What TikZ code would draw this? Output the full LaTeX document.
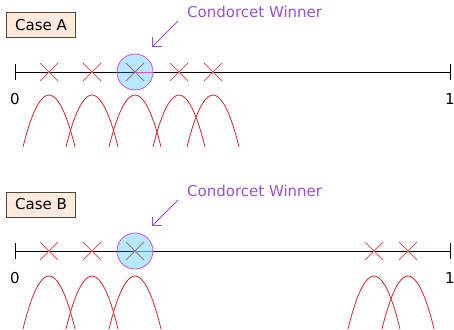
\documentclass[tikz,border=0pt]{standalone}
\usepackage{fontspec}
\setmainfont{DejaVu Sans}
\usetikzlibrary{arrows.meta}
\definecolor{cwviolet}{HTML}{9B4FD0}
\definecolor{cwmag}{HTML}{D050E0}
\definecolor{crossred}{HTML}{E05A5A}
\definecolor{arcred}{HTML}{D02828}
\definecolor{boxfill}{HTML}{FFEBDD}
\definecolor{boxdraw}{HTML}{4A4A30}
\tikzset{
  casebox/.style={draw=boxdraw, fill=boxfill, line width=0.8pt, minimum width=69pt, minimum height=25pt, inner sep=0pt, font=\fontsize{15}{18}\selectfont},
  axis/.style={draw=black, line width=0.9pt},
  xmark/.style={draw=crossred, line width=0.8pt},
  arc/.style={draw=arcred, line width=0.8pt},
  lbl/.style={font=\fontsize{15}{18}\selectfont, inner sep=0pt},
  cwtext/.style={font=\fontsize{15}{18}\selectfont, text=cwviolet, inner sep=0pt, anchor=west},
  cwarrow/.style={draw=cwviolet, line width=0.9pt, -{Straight Barb[length=6.4pt,width=12.8pt]}},
  cwcircle/.style={draw=cwmag, fill=cyan, fill opacity=0.28, line width=0.8pt, circle, minimum size=36pt, inner sep=0pt},
}
\newcommand{\xcross}[2]{\draw[xmark] (#1-9,#2-9) -- (#1+9,#2+9) (#1-9,#2+9) -- (#1+9,#2-9);}
\begin{document}
\begin{tikzpicture}[x=1pt,y=-1pt]
\useasboundingbox (0,0) rectangle (454,329);
% ---------- Case A ----------
\node[casebox] (boxA) at (41,25) {Case A};
\coordinate (a0) at (15,72);
\coordinate (a1) at (450,72);
\draw[axis] (a0) -- (a1);
\draw[axis] (15,64) -- (15,80);
\draw[axis] (450,64) -- (450,80);
\node[lbl] (za) at (15,99) {0};
\node[lbl] (oa) at (450,99) {1};
\foreach \x in {49,92,135,179,213} {\xcross{\x}{72}}
\node[cwcircle] (cwA) at (135,72) {};
\draw[draw=cwmag, line width=0.9pt] (cwA.center) -- (cwA.east);
\node[cwtext] (tA) at (187,12) {Condorcet Winner};
\coordinate (sA) at (178,21);
\coordinate (eA) at (152,47);
\draw[cwarrow] (sA) -- (eA);
\foreach \x in {49,92,135,179,213} {\draw[arc] (\x-26,147) parabola bend (\x,95) (\x+26,147);}
% ---------- Case B ----------
\node[casebox] (boxB) at (41,204.5) {Case B};
\coordinate (b0) at (15,251);
\coordinate (b1) at (450,251);
\draw[axis] (b0) -- (b1);
\draw[axis] (15,243) -- (15,259);
\draw[axis] (450,243) -- (450,259);
\node[lbl] (zb) at (15,278) {0};
\node[lbl] (ob) at (450,278) {1};
\foreach \x in {49,92,135,374,408} {\xcross{\x}{251}}
\node[cwcircle] (cwB) at (135,251) {};
\draw[draw=cwmag, line width=0.9pt] (cwB.center) -- (cwB.east);
\node[cwtext] (tB) at (187,191) {Condorcet Winner};
\coordinate (sB) at (178,200);
\coordinate (eB) at (152,226);
\draw[cwarrow] (sB) -- (eB);
\begin{scope}
\clip (0,0) rectangle (454,329);
\foreach \x in {49,92,135,374,408} {\draw[arc] (\x-26,329) parabola bend (\x,276) (\x+26,329);}
\end{scope}
\end{tikzpicture}
\end{document}
